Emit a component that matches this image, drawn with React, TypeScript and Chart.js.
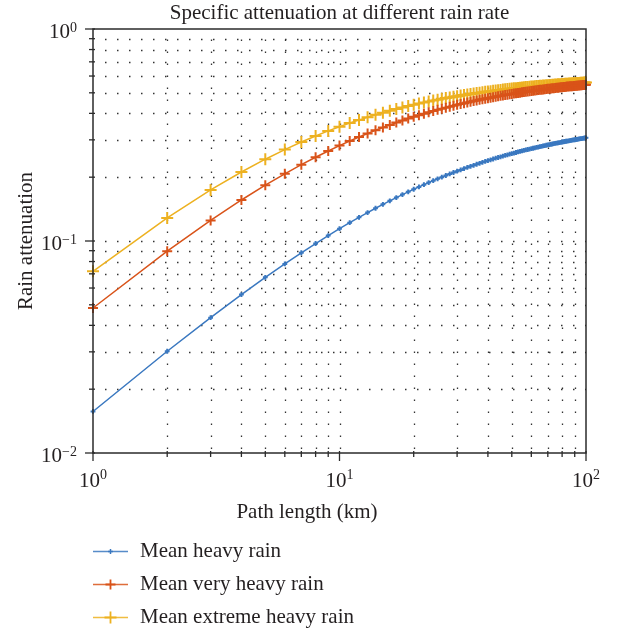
import React, { useEffect, useRef } from "react";
import { Chart, registerables } from "chart.js";

Chart.register(...registerables);

const distanceKm = [
  1, 2, 3, 4, 5, 6, 7, 8, 9, 10, 11, 12, 13, 14, 15, 16, 17, 18, 19, 20,
  21, 22, 23, 24, 25, 26, 27, 28, 29, 30, 31, 32, 33, 34, 35, 36, 37, 38, 39, 40,
  41, 42, 43, 44, 45, 46, 47, 48, 49, 50, 51, 52, 53, 54, 55, 56, 57, 58, 59, 60,
  61, 62, 63, 64, 65, 66, 67, 68, 69, 70, 71, 72, 73, 74, 75, 76, 77, 78, 79, 80,
  81, 82, 83, 84, 85, 86, 87, 88, 89, 90, 91, 92, 93, 94, 95, 96, 97, 98, 99, 100,
];

const meanHeavyRain = [
  0.0157, 0.0302, 0.0435, 0.0559, 0.0674, 0.078, 0.088, 0.0973, 0.1061, 0.1143,
  0.122, 0.1293, 0.1362, 0.1427, 0.1489, 0.1547, 0.1603, 0.1656, 0.1706, 0.1754,
  0.18, 0.1844, 0.1886, 0.1926, 0.1965, 0.2001, 0.2037, 0.2071, 0.2104, 0.2135,
  0.2165, 0.2195, 0.2223, 0.225, 0.2276, 0.2302, 0.2326, 0.235, 0.2373, 0.2395,
  0.2416, 0.2437, 0.2458, 0.2477, 0.2496, 0.2515, 0.2533, 0.255, 0.2567, 0.2584,
  0.26, 0.2615, 0.263, 0.2645, 0.266, 0.2674, 0.2688, 0.2701, 0.2714, 0.2727,
  0.2739, 0.2751, 0.2763, 0.2775, 0.2786, 0.2797, 0.2808, 0.2819, 0.2829, 0.2839,
  0.2849, 0.2859, 0.2868, 0.2878, 0.2887, 0.2896, 0.2904, 0.2913, 0.2921, 0.293,
  0.2938, 0.2946, 0.2954, 0.2961, 0.2969, 0.2976, 0.2983, 0.299, 0.2997, 0.3004,
  0.3011, 0.3018, 0.3024, 0.3031, 0.3037, 0.3043, 0.3049, 0.3055, 0.3061, 0.3067,
];

const meanVeryHeavyRain = [
  0.0483, 0.0895, 0.1251, 0.1561, 0.1833, 0.2075, 0.229, 0.2484, 0.2659, 0.2818,
  0.2962, 0.3095, 0.3216, 0.3328, 0.3432, 0.3528, 0.3618, 0.3701, 0.3779, 0.3852,
  0.392, 0.3985, 0.4046, 0.4103, 0.4157, 0.4208, 0.4257, 0.4303, 0.4347, 0.4389,
  0.4429, 0.4467, 0.4503, 0.4538, 0.4571, 0.4603, 0.4633, 0.4663, 0.4691, 0.4718,
  0.4744, 0.4769, 0.4793, 0.4816, 0.4839, 0.486, 0.4881, 0.4901, 0.4921, 0.494,
  0.4958, 0.4976, 0.4993, 0.501, 0.5026, 0.5042, 0.5057, 0.5072, 0.5086, 0.51,
  0.5114, 0.5127, 0.514, 0.5152, 0.5164, 0.5176, 0.5188, 0.5199, 0.521, 0.5221,
  0.5231, 0.5242, 0.5252, 0.5261, 0.5271, 0.528, 0.5289, 0.5298, 0.5307, 0.5315,
  0.5324, 0.5332, 0.534, 0.5348, 0.5355, 0.5363, 0.537, 0.5377, 0.5384, 0.5391,
  0.5398, 0.5405, 0.5411, 0.5417, 0.5424, 0.543, 0.5436, 0.5442, 0.5448, 0.5453,
];

const meanExtremeHeavyRain = [
  0.0719, 0.1284, 0.1741, 0.2116, 0.2431, 0.2699, 0.2929, 0.313, 0.3306, 0.3461,
  0.36, 0.3724, 0.3836, 0.3938, 0.403, 0.4115, 0.4192, 0.4264, 0.433, 0.4391,
  0.4448, 0.4501, 0.4551, 0.4597, 0.4641, 0.4682, 0.472, 0.4756, 0.4791, 0.4823,
  0.4854, 0.4883, 0.4911, 0.4938, 0.4963, 0.4987, 0.501, 0.5032, 0.5053, 0.5073,
  0.5092, 0.5111, 0.5128, 0.5146, 0.5162, 0.5178, 0.5193, 0.5208, 0.5222, 0.5235,
  0.5249, 0.5261, 0.5274, 0.5286, 0.5297, 0.5308, 0.5319, 0.533, 0.534, 0.535,
  0.5359, 0.5369, 0.5378, 0.5386, 0.5395, 0.5403, 0.5411, 0.5419, 0.5427, 0.5434,
  0.5442, 0.5449, 0.5456, 0.5462, 0.5469, 0.5475, 0.5482, 0.5488, 0.5494, 0.55,
  0.5505, 0.5511, 0.5516, 0.5522, 0.5527, 0.5532, 0.5537, 0.5542, 0.5547, 0.5552,
  0.5556, 0.5561, 0.5565, 0.557, 0.5574, 0.5578, 0.5582, 0.5586, 0.559, 0.5594,
];

const seriesNames = ["Mean heavy rain", "Mean very heavy rain", "Mean extreme heavy rain"];
const seriesColors = ["#3a78c0", "#d95319", "#edb120"];

const xMajorTicks = [1, 10, 100];
const xMajorExponents = ["0", "1", "2"];
const xMinorTicks = [2, 3, 4, 5, 6, 7, 8, 9, 20, 30, 40, 50, 60, 70, 80, 90];
const yMajorTicks = [0.01, 0.1, 1];
const yMajorExponents = ["\u22122", "\u22121", "0"];
const yMinorTicks = [0.02, 0.03, 0.04, 0.05, 0.06, 0.07, 0.08, 0.09, 0.2, 0.3, 0.4, 0.5, 0.6, 0.7, 0.8, 0.9];

const chartTitle = "Specific attenuation at different rain rate";
const xTitle = "Path length (km)";
const yTitle = "Rain attenuation";

const FONT = '"Liberation Serif", "Times New Roman", serif';
const TEXT = "#231f20";
const AXIS = "#2b2b2b";

const decorPlugin = {
  id: "decor",
  beforeDatasetsDraw(chart: any) {
    const { ctx, chartArea: a, scales } = chart;
    const xs = scales.x;
    const ys = scales.y;
    ctx.save();
    ctx.strokeStyle = "#333";
    ctx.lineWidth = 1.3;
    ctx.setLineDash([1.5, 10.5]);
    [...xMinorTicks, 10].forEach((v) => {
      const px = Math.round(xs.getPixelForValue(v)) + 0.5;
      ctx.beginPath();
      ctx.moveTo(px, a.bottom - 4);
      ctx.lineTo(px, a.top);
      ctx.stroke();
    });
    [...yMinorTicks, 0.1].forEach((v) => {
      const py = Math.round(ys.getPixelForValue(v)) + 0.5;
      ctx.beginPath();
      ctx.moveTo(a.left + 12, py);
      ctx.lineTo(a.right, py);
      ctx.stroke();
    });
    ctx.restore();
  },
  afterDraw(chart: any) {
    const { ctx, chartArea: a, scales } = chart;
    const xs = scales.x;
    const ys = scales.y;
    ctx.save();
    // frame
    ctx.strokeStyle = AXIS;
    ctx.lineWidth = 1.5;
    ctx.setLineDash([]);
    ctx.strokeRect(a.left, a.top, a.right - a.left, a.bottom - a.top);
    // ticks
    ctx.lineWidth = 1.3;
    xMinorTicks.forEach((v) => {
      const px = xs.getPixelForValue(v);
      ctx.beginPath();
      ctx.moveTo(px, a.bottom - 2);
      ctx.lineTo(px, a.bottom + 4);
      ctx.stroke();
    });
    xMajorTicks.forEach((v) => {
      const px = xs.getPixelForValue(v);
      ctx.beginPath();
      ctx.moveTo(px, a.bottom - 2);
      ctx.lineTo(px, a.bottom + 8);
      ctx.stroke();
    });
    yMinorTicks.forEach((v) => {
      const py = ys.getPixelForValue(v);
      ctx.beginPath();
      ctx.moveTo(a.left + 2, py);
      ctx.lineTo(a.left - 4, py);
      ctx.stroke();
    });
    yMajorTicks.forEach((v) => {
      const py = ys.getPixelForValue(v);
      ctx.beginPath();
      ctx.moveTo(a.left + 2, py);
      ctx.lineTo(a.left - 8, py);
      ctx.stroke();
    });

    ctx.fillStyle = TEXT;
    ctx.textBaseline = "alphabetic";
    const bigFont = `21px ${FONT}`;
    const supFont = `14px ${FONT}`;
    // x tick labels
    xMajorTicks.forEach((v, i) => {
      const px = xs.getPixelForValue(v);
      ctx.font = bigFont;
      const w1 = ctx.measureText("10").width;
      ctx.font = supFont;
      const w2 = ctx.measureText(xMajorExponents[i]).width;
      const start = px - (w1 + w2) / 2;
      ctx.font = bigFont;
      ctx.textAlign = "left";
      ctx.fillText("10", start, a.bottom + 34);
      ctx.font = supFont;
      ctx.fillText(xMajorExponents[i], start + w1, a.bottom + 26);
    });
    // y tick labels
    yMajorTicks.forEach((v, i) => {
      const py = ys.getPixelForValue(v);
      ctx.font = supFont;
      const w2 = ctx.measureText(yMajorExponents[i]).width;
      const right = a.left - 16;
      ctx.textAlign = "right";
      ctx.fillText(yMajorExponents[i], right, py + 2.5);
      ctx.font = bigFont;
      ctx.fillText("10", right - w2, py + 9);
    });
    // titles
    ctx.font = `21px ${FONT}`;
    ctx.textAlign = "center";
    ctx.fillText(chartTitle, (a.left + a.right) / 2, 19);
    ctx.fillText(xTitle, 307, 518);
    ctx.save();
    ctx.translate(32, (a.top + a.bottom) / 2);
    ctx.rotate(-Math.PI / 2);
    ctx.fillText(yTitle, 0, 0);
    ctx.restore();

    // legend
    const rows = [551.5, 584.5, 617.5];
    const radii = [2.5, 5, 6];
    chart.data.datasets.forEach((ds: any, i: number) => {
      const y = rows[i];
      ctx.strokeStyle = ds.borderColor;
      ctx.lineWidth = 1.5;
      ctx.globalAlpha = 0.85;
      ctx.beginPath();
      ctx.moveTo(93, y);
      ctx.lineTo(128, y);
      ctx.stroke();
      ctx.globalAlpha = 1;
      ctx.lineWidth = i === 0 ? 1.5 : 1.8;
      const r = radii[i];
      ctx.beginPath();
      ctx.moveTo(110.5 - r, y);
      ctx.lineTo(110.5 + r, y);
      ctx.moveTo(110.5, y - r);
      ctx.lineTo(110.5, y + r);
      ctx.stroke();
      ctx.fillStyle = TEXT;
      ctx.font = `21px ${FONT}`;
      ctx.textAlign = "left";
      ctx.fillText(seriesNames[i], 140, y + 5);
    });
    ctx.restore();
  },
};

export default function App() {
  const canvasRef = useRef<HTMLCanvasElement | null>(null);

  useEffect(() => {
    document.body.style.margin = "0";
    const canvas = canvasRef.current;
    if (!canvas) return;
    const allSeries = [meanHeavyRain, meanVeryHeavyRain, meanExtremeHeavyRain];
    const pointRadii = [2.4, 5, 6];
    const pointWidths = [2, 2, 2];
    const chart = new Chart(canvas, {
      type: "line",
      data: {
        datasets: allSeries.map((s, i) => ({
          label: seriesNames[i],
          data: distanceKm.map((x, j) => ({ x, y: s[j] })),
          borderColor: seriesColors[i],
          backgroundColor: seriesColors[i],
          borderWidth: 1.5,
          pointStyle: "cross",
          pointRadius: pointRadii[i],
          pointBorderWidth: pointWidths[i],
          pointHoverRadius: pointRadii[i],
          tension: 0,
          fill: false,
          clip: false as any,
        })),
      },
      options: {
        responsive: false,
        animation: false,
        devicePixelRatio: 1,
        layout: { padding: { left: 93, right: 36, top: 29, bottom: 182 } },
        plugins: {
          legend: { display: false },
          title: { display: false },
          tooltip: { enabled: false },
        },
        events: [],
        scales: {
          x: { type: "logarithmic", min: 1, max: 100, display: false },
          y: { type: "logarithmic", min: 0.01, max: 1, display: false },
        },
      },
      plugins: [decorPlugin],
    });
    return () => chart.destroy();
  }, []);

  return <canvas ref={canvasRef} width={622} height={635} style={{ display: "block" }} />;
}
